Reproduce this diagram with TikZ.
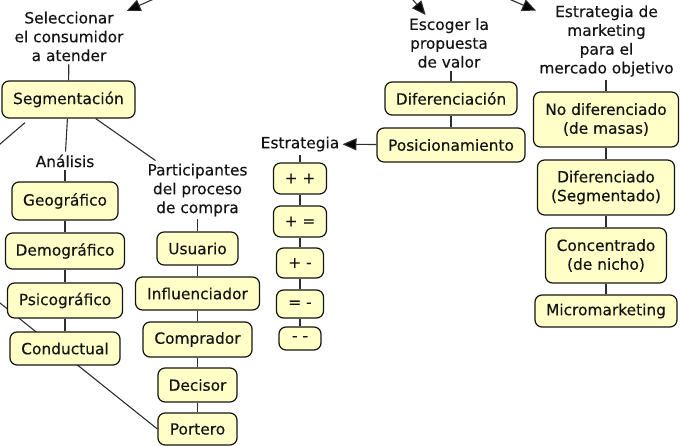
\documentclass[tikz,border=0pt]{standalone}
\usepackage{fontspec}
\setmainfont{DejaVu Sans}
\newfontfamily\mapfont{DejaVu Sans}[FakeBold=0.3]
\usetikzlibrary{arrows.meta,backgrounds,calc}
\definecolor{boxfill}{HTML}{FFFFC8}
\definecolor{ink}{HTML}{141414}
\definecolor{wirecol}{HTML}{2E2E2E}
\begin{document}
\begin{tikzpicture}[x=1pt,y=-1pt,
  every node/.style={font=\mapfont\fontsize{15.4}{18.8}\selectfont, text=ink},
  cbox/.style={draw=ink, line width=1.2pt, fill=boxfill, rounded corners=7pt,
               inner sep=0pt, align=center},
  phrase/.style={inner sep=3pt, align=center},
  wire/.style={draw=wirecol, line width=1.1pt},
  feed/.style={wire, -{Triangle[length=14pt,width=12pt,fill=black]}}
]
\useasboundingbox (0,0) rectangle (681,446);

% --- segmentation branch
\node[phrase] (sel) at (69,36.5) {Seleccionar\\el consumidor\\a atender};
\node[cbox,minimum width=133pt,minimum height=37pt] (seg) at (68.5,99.5) {Segmentación};
\node[phrase] (ana) at (65,161) {Análisis};
\node[cbox,minimum width=106pt,minimum height=38pt] (geo) at (65,201) {Geográfico};
\node[cbox,minimum width=119pt,minimum height=36pt] (dem) at (65,251) {Demográfico};
\node[cbox,minimum width=115pt,minimum height=35pt] (psi) at (65,300.5) {Psicográfico};
\node[cbox,minimum width=110pt,minimum height=33pt] (con) at (65,348.5) {Conductual};

% --- buying process participants
\node[phrase] (par) at (197.5,190) {Participantes\\del proceso\\de compra};
\node[cbox,minimum width=81pt,minimum height=33pt] (usu) at (197.5,248.5) {Usuario};
\node[cbox,minimum width=124pt,minimum height=33pt] (inf) at (197.5,293.5) {Influenciador};
\node[cbox,minimum width=109pt,minimum height=35pt] (com) at (197.5,339.5) {Comprador};
\node[cbox,minimum width=79pt,minimum height=34pt] (dec) at (197.5,385) {Decisor};
\node[cbox,minimum width=79pt,minimum height=32pt] (por) at (197.5,429) {Portero};

% --- positioning strategies
\node[phrase] (est) at (300,144) {Estrategia};
\node[cbox,minimum width=53pt,minimum height=31pt] (pp) at (300,178.5) {+ +};
\node[cbox,minimum width=53pt,minimum height=31pt] (pe) at (300,221.5) {+ =};
\node[cbox,minimum width=47pt,minimum height=30pt] (pm) at (300,263) {+ -};
\node[cbox,minimum width=47pt,minimum height=28pt] (em) at (300,304) {= -};
\node[cbox,minimum width=42pt,minimum height=23pt] (mm) at (300,338.5) {- -};

% --- value proposition
\node[phrase] (esc) at (449,43) {Escoger la\\propuesta\\de valor};
\node[cbox,minimum width=132pt,minimum height=33pt] (dif) at (451,98.5) {Diferenciación};
\node[cbox,minimum width=148pt,minimum height=34pt] (pos) at (451,145) {Posicionamiento};

% --- target market strategy
\node[phrase] (emk) at (606.5,41) {Estrategia de\\marketing\\para el\\mercado objetivo};
\node[cbox,minimum width=145pt,minimum height=55pt] (ndi) at (606,119.5) {No diferenciado\\(de masas)};
\node[cbox,minimum width=137pt,minimum height=55pt] (dse) at (606,187.5) {Diferenciado\\(Segmentado)};
\node[cbox,minimum width=121pt,minimum height=55pt] (cni) at (606,255.5) {Concentrado\\(de nicho)};
\node[cbox,minimum width=142pt,minimum height=32pt] (mic) at (606,311) {Micromarketing};

% links that come in from outside the frame
\coordinate (srcSel) at (251,-44);
\coordinate (srcEsc) at (378,-42);
\coordinate (srcEmk) at (415,-41.5);
\coordinate (offSeg) at (-15,157);
\coordinate (offPor) at (-40,271);

\begin{scope}[on background layer]
  \draw[wire] (offPor) -- (por.west);
\end{scope}

\draw[wire] (sel) -- (seg);
\draw[wire] (seg) -- (ana);
\draw[wire] (seg) -- (par);
\draw[wire] ($(seg.south)+(-43.5,4)$) -- (offSeg);
\draw[wire] (ana) -- (geo);
\draw[wire] (geo) -- (dem);
\draw[wire] (dem) -- (psi);
\draw[wire] (psi) -- (con);

\draw[wire] (par) -- (usu);
\draw[wire] (usu) -- (inf);
\draw[wire] (inf) -- (com);
\draw[wire] (com) -- (dec);
\draw[wire] (dec) -- (por);

\draw[wire] (est) -- (pp);
\draw[wire] (pp) -- (pe);
\draw[wire] (pe) -- (pm);
\draw[wire] (pm) -- (em);
\draw[wire] (em) -- (mm);

\draw[wire] (esc.south -| dif.north) -- (dif.north);
\draw[wire] (dif) -- (pos);

\draw[wire] (emk.south -| ndi.north) -- (ndi.north);
\draw[wire] (ndi) -- (dse);
\draw[wire] (dse) -- (cni);
\draw[wire] (cni) -- (mic);

\draw[feed] (srcSel) -- (sel);
\draw[feed] (srcEsc) -- (esc);
\draw[feed] (srcEmk) -- (emk);
\draw[feed] (pos) -- (est);
\end{tikzpicture}
\end{document}
